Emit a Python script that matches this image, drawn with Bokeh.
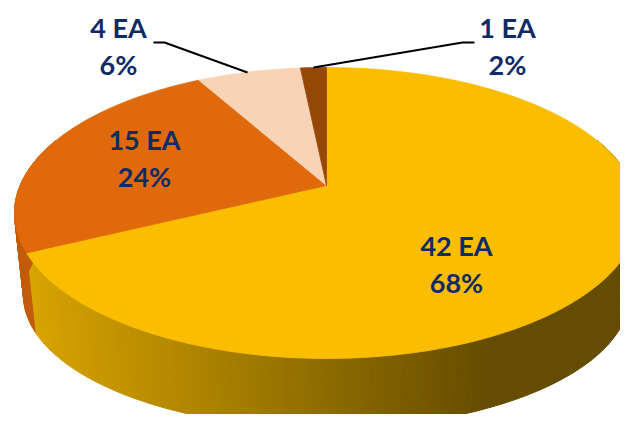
import numpy as np
from bokeh.plotting import figure
from bokeh.models import Range1d
from bokeh.core.properties import value
from bokeh.embed import file_html
from bokeh.resources import INLINE

# ---------------- data ----------------
categories = ["42 EA", "15 EA", "4 EA", "1 EA"]
counts = [42, 15, 4, 1]

# ---------------- style / layout ----------------
top_colors = [(250, 189, 0), (224, 106, 11), (248, 211, 181), (149, 72, 6)]
label_pos = [(456, 245), (144, 139), (118, 27), (507, 27)]
LINE_GAP = 37
TEXT_COLOR = "#102A66"
leaders = {2: ([153, 164, 247], [42, 42, 72]), 3: ([474, 462, 313], [42, 42, 67])}

# perspective pie geometry (pixel space)
CX, K = 326.0, 0.189
TOP_V0, TOP_A, TOP_B = 185.0, 306.4, 140.3
BOT_V0, BOT_A, BOT_B = 269.9, 297.5, 128.2


def top_pt(phi):
    a, b = np.sin(phi), np.cos(phi)
    d = 1 + K * b
    return CX + TOP_A * a / d, TOP_V0 - TOP_B * b / d


def bot_pt(phi):
    a, b = np.sin(phi), np.cos(phi)
    d = 1 + K * b
    return CX + BOT_A * a / d, BOT_V0 - BOT_B * b / d


def shade(rgb, x):
    t = min(max((x - 25.0) / (490.0 - 25.0), 0.0), 1.0)
    f = 0.87 - 0.47 * t
    r, g, b = (int(round(c * f)) for c in rgb)
    return "#%02x%02x%02x" % (r, g, b)


def hexc(rgb):
    return "#%02x%02x%02x" % rgb


p = figure(width=620, height=414, x_range=Range1d(0, 620), y_range=Range1d(414, 0),
           output_backend="svg", toolbar_location=None, min_border=0)
p.axis.visible = False
p.grid.visible = False
p.outline_line_color = None
p.background_fill_color = "white"
p.border_fill_color = "white"

total = float(sum(counts))
fracs = [c / total for c in counts]
bounds = np.concatenate([[0.0], np.cumsum(fracs)]) * 2 * np.pi

# side strips (front part only)
VIS0, VIS1 = np.radians(70), np.radians(290)
sx, sy, scol = [], [], []
for i in range(len(counts)):
    a0, a1 = max(bounds[i], VIS0), min(bounds[i + 1], VIS1)
    if a1 <= a0:
        continue
    n = max(2, int(np.degrees(a1 - a0) / 1.0))
    ph = np.linspace(a0, a1, n + 1)
    for j in range(n):
        x1, y1 = top_pt(ph[j]); x2, y2 = top_pt(ph[j + 1])
        x3, y3 = bot_pt(ph[j + 1]); x4, y4 = bot_pt(ph[j])
        sx.append([x1, x2, x3, x4]); sy.append([y1, y2, y3, y4])
        scol.append(shade(top_colors[i], (x1 + x2 + x3 + x4) / 4))
p.patches(sx, sy, fill_color=scol, line_color=scol, line_width=1)

# top faces
tx, ty, tcol = [], [], []
for i in range(len(counts)):
    n = max(3, int(np.degrees(bounds[i + 1] - bounds[i]) / 1.0))
    ph = np.linspace(bounds[i], bounds[i + 1], n + 1)
    xs, ys = top_pt(ph)
    tx.append([CX] + list(xs)); ty.append([TOP_V0] + list(ys))
    tcol.append(hexc(top_colors[i]))
p.patches(tx, ty, fill_color=tcol, line_color=tcol, line_width=0.8)

# leader lines
for i, (lx, ly) in leaders.items():
    p.line(lx, ly, line_color="black", line_width=2)

# labels
lab_x, lab_y, lab_t = [], [], []
for i, cat in enumerate(categories):
    pct = "%d%%" % int(round(100 * counts[i] / total))
    x, y = label_pos[i]
    lab_x += [x, x]; lab_y += [y, y + LINE_GAP]; lab_t += [cat, pct]
p.text(lab_x, lab_y, text=lab_t, text_align="center", text_baseline="middle",
       text_font=value("Lato"), text_font_style="bold", text_font_size="27px",
       text_color=TEXT_COLOR)

open("out.html", "w").write(file_html(p, INLINE))
